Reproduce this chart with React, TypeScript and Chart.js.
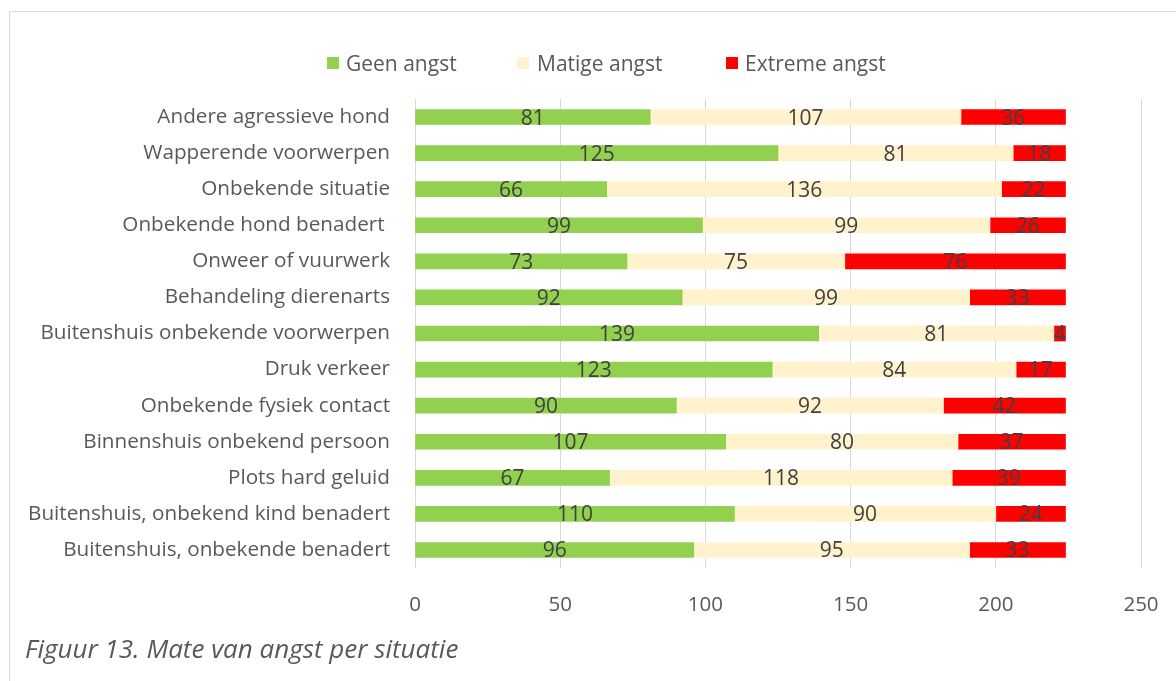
import React, { useEffect, useRef } from "react";
import { Chart, registerables } from "chart.js";

Chart.register(...registerables);

const categories = [
  "Andere agressieve hond",
  "Wapperende voorwerpen",
  "Onbekende situatie",
  "Onbekende hond benadert ",
  "Onweer of vuurwerk",
  "Behandeling dierenarts",
  "Buitenshuis onbekende voorwerpen",
  "Druk verkeer",
  "Onbekende fysiek contact",
  "Binnenshuis onbekend persoon",
  "Plots hard geluid",
  "Buitenshuis, onbekend kind benadert",
  "Buitenshuis, onbekende benadert",
];
const geenAngst = [81, 125, 66, 99, 73, 92, 139, 123, 90, 107, 67, 110, 96];
const matigeAngst = [107, 81, 136, 99, 75, 99, 81, 84, 92, 80, 118, 90, 95];
const extremeAngst = [36, 18, 22, 26, 76, 33, 4, 17, 42, 37, 39, 24, 33];
const seriesNames = ["Geen angst", "Matige angst", "Extreme angst"];
const seriesColors = ["#92D050", "#FFF2CC", "#FF0000"];
const xMin = 0;
const xMax = 250;
const xStep = 50;
const captionText = "Figuur 13. Mate van angst per situatie";

const FONT = "'Open Sans', 'Noto Sans', sans-serif";
const TEXT = "#595959";

const segLabels = {
  id: "segLabels",
  afterDatasetsDraw(chart: any) {
    const ctx = chart.ctx;
    ctx.save();
    ctx.font = `21px ${FONT}`;
    ctx.fillStyle = "#404040";
    ctx.textAlign = "center";
    ctx.textBaseline = "middle";
    chart.data.datasets.forEach((ds: any, i: number) => {
      const meta = chart.getDatasetMeta(i);
      meta.data.forEach((el: any, j: number) => {
        const p = el.getProps(["x", "y", "base"], true);
        ctx.fillText(String(ds.data[j]), (p.x + p.base) / 2, p.y + 1.5);
      });
    });
    ctx.restore();
  },
};

export default function App() {
  const ref = useRef<HTMLCanvasElement | null>(null);
  useEffect(() => {
    if (!ref.current) return;
    const series = [geenAngst, matigeAngst, extremeAngst];
    const chart = new Chart(ref.current, {
      type: "bar",
      data: {
        labels: categories,
        datasets: series.map((d, i) => ({
          label: seriesNames[i],
          data: d,
          backgroundColor: seriesColors[i],
          borderWidth: 0,
          barThickness: 15,
        })),
      },
      options: {
        indexAxis: "y",
        responsive: false,
        animation: false,
        devicePixelRatio: 1,
        layout: { padding: { top: 99, right: 35, left: 0, bottom: 0 } },
        plugins: { legend: { display: false }, tooltip: { enabled: false } },
        scales: {
          x: {
            stacked: true,
            min: xMin,
            max: xMax,
            ticks: { stepSize: xStep, color: TEXT, font: { family: FONT, size: 20.5 }, padding: 25 },
            grid: { color: "#D9D9D9", drawTicks: false, lineWidth: 1 },
            border: { display: false },
            afterFit: (s: any) => {
              s.height = 681 - 568;
              s.paddingLeft = 0;
              s.paddingRight = 0;
            },
          },
          y: {
            stacked: true,
            grid: { display: false, drawTicks: false },
            border: { display: false },
            ticks: { color: TEXT, font: { family: FONT, size: 20.7 }, padding: 25, autoSkip: false },
            afterFit: (s: any) => {
              s.width = 415;
              s.paddingTop = 0;
              s.paddingBottom = 0;
            },
          },
        },
      } as any,
      plugins: [segLabels],
    });
    return () => chart.destroy();
  }, []);

  const legendPos = [
    { box: 327, text: 346 },
    { box: 517, text: 537 },
    { box: 726, text: 745 },
  ];

  return (
    <div style={{ position: "fixed", left: 0, top: 0, width: 1176, height: 681, overflow: "hidden", background: "#fff" }}>
      <div
        style={{
          position: "absolute",
          left: 9,
          top: 11,
          width: 1200,
          height: 700,
          border: "1px solid #D9D9D9",
          boxSizing: "border-box",
        }}
      />
      <canvas ref={ref} width={1176} height={681} style={{ position: "absolute", left: 0, top: 0, display: "block" }} />
      {seriesNames.map((n, i) => (
        <React.Fragment key={n}>
          <div
            style={{
              position: "absolute",
              left: legendPos[i].box,
              top: 57,
              width: 12,
              height: 12,
              background: seriesColors[i],
            }}
          />
          <div
            style={{
              position: "absolute",
              left: legendPos[i].text,
              top: 49,
              fontFamily: FONT,
              fontSize: 21,
              lineHeight: "28px",
              color: TEXT,
              whiteSpace: "nowrap",
            }}
          >
            {n}
          </div>
        </React.Fragment>
      ))}
      <div
        style={{
          position: "absolute",
          left: 25,
          top: 631,
          fontFamily: FONT,
          fontStyle: "italic",
          fontSize: 26,
          lineHeight: "34px",
          color: TEXT,
          whiteSpace: "nowrap",
        }}
      >
        {captionText}
      </div>
    </div>
  );
}
